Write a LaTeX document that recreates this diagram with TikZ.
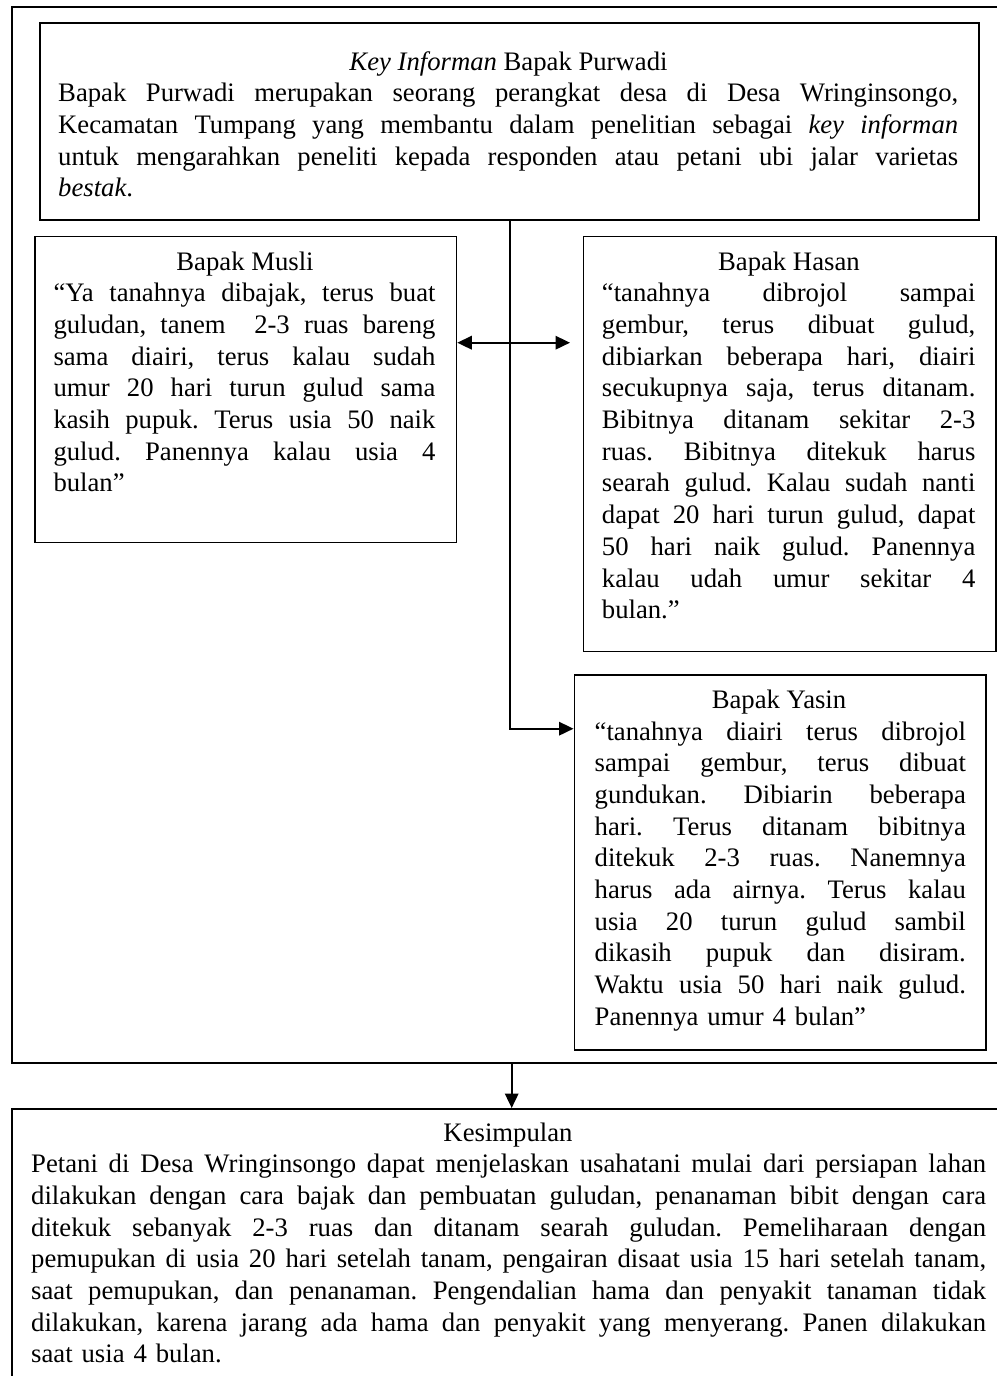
\documentclass[tikz,border=0pt]{standalone}
\usepackage{fontspec}
\setmainfont{Liberation Serif}
\usetikzlibrary{arrows.meta}
% one fully justified line of a paragraph: the spaces share the slack
\newcommand\jl[1]{\leavevmode\hbox to\hsize{\spaceskip=0.25em plus 1fil\relax#1}}
\setlength\parindent{0pt}
\frenchspacing

\begin{document}
\begin{tikzpicture}[x=1pt,y=-1pt,
  frame/.style={draw, line width=2.4pt, inner sep=0pt, anchor=north west},
  card/.style={draw, line width=1.6pt, inner sep=0pt, anchor=north west},
  heading/.style={inner sep=0pt, anchor=base, font=\fontsize{26.7pt}{31.7pt}\selectfont},
  body/.style={inner sep=0pt, anchor=base west, font=\fontsize{26.7pt}{31.7pt}\selectfont},
  link/.style={line width=1.8pt},
  tip/.style={-{Triangle[length=14.5pt,width=13.5pt]}},
  twotip/.style={{Triangle[length=14.5pt,width=13.5pt]}-{Triangle[length=14.5pt,width=13.5pt]}}
]
\useasboundingbox[fill=white] (0,0) rectangle (996,1376);

% outer frame and conclusion box (both run past the right edge)
\node[frame, minimum width=999pt, minimum height=1056pt] (outer) at (11,6) {};
\node[frame, minimum width=999pt, minimum height=300pt] (kes) at (11,1108) {};

% key informant box
\node[frame, line width=2.3pt, minimum width=939pt, minimum height=197.3pt] (top) at (39,21.7) {};
% respondent boxes
\node[card, minimum width=421.4pt, minimum height=306pt] (musli) at (34.3,235.7) {};
\node[card, minimum width=412.3pt, minimum height=415pt] (hasan) at (582.7,235.7) {};
\node[card, minimum width=411.5pt, minimum height=375.3pt] (yasin) at (573.5,674) {};

% texts
\node[heading] (toptitle) at (508.5,70) {\textit{Key Informan} Bapak Purwadi};
\node[body, text width=900pt] (toptext) at (58,101.7) {%
\jl{Bapak Purwadi merupakan seorang perangkat desa di Desa Wringinsongo,}\\
\jl{Kecamatan Tumpang yang membantu dalam penelitian sebagai \textit{key informan}}\\
\jl{untuk mengarahkan peneliti kepada responden atau petani ubi jalar varietas}\\
\textit{bestak}.};

\node[heading] (muslititle) at (245,270) {Bapak Musli};
\node[body, text width=382pt] (muslitext) at (53.3,301.7) {%
\jl{“Ya tanahnya dibajak, terus buat}\\
\jl{guludan, tanem \ 2-3 ruas bareng}\\
\jl{sama diairi, terus kalau sudah}\\
\jl{umur 20 hari turun gulud sama}\\
\jl{kasih pupuk. Terus usia 50 naik}\\
\jl{gulud. Panennya kalau usia 4}\\
bulan”};

\node[heading] (hasantitle) at (788.9,270) {Bapak Hasan};
\node[body, text width=373.5pt] (hasantext) at (601.7,301.7) {%
\jl{“tanahnya dibrojol sampai}\\
\jl{gembur, terus dibuat gulud,}\\
\jl{dibiarkan beberapa hari, diairi}\\
\jl{secukupnya saja, terus ditanam.}\\
\jl{Bibitnya ditanam sekitar 2-3}\\
\jl{ruas. Bibitnya ditekuk harus}\\
\jl{searah gulud. Kalau sudah nanti}\\
\jl{dapat 20 hari turun gulud, dapat}\\
\jl{50 hari naik gulud. Panennya}\\
\jl{kalau udah umur sekitar 4}\\
bulan.”};

\node[heading] (yasintitle) at (779,708.3) {Bapak Yasin};
\node[body, text width=371.2pt] (yasintext) at (594.5,740) {%
\jl{“tanahnya diairi terus dibrojol}\\
\jl{sampai gembur, terus dibuat}\\
\jl{gundukan. Dibiarin beberapa}\\
\jl{hari. Terus ditanam bibitnya}\\
\jl{ditekuk 2-3 ruas. Nanemnya}\\
\jl{harus ada airnya. Terus kalau}\\
\jl{usia 20 turun gulud sambil}\\
\jl{dikasih pupuk dan disiram.}\\
\jl{Waktu usia 50 hari naik gulud.}\\
Panennya umur 4 bulan”};

\node[heading] (kestitle) at (508,1141) {Kesimpulan};
\node[body, text width=955pt] (kestext) at (31,1172.7) {%
\jl{Petani di Desa Wringinsongo dapat menjelaskan usahatani mulai dari persiapan lahan}\\
\jl{dilakukan dengan cara bajak dan pembuatan guludan, penanaman bibit dengan cara}\\
\jl{ditekuk sebanyak 2-3 ruas dan ditanam searah guludan. Pemeliharaan dengan}\\
\jl{pemupukan di usia 20 hari setelah tanam, pengairan disaat usia 15 hari setelah tanam,}\\
\jl{saat pemupukan, dan penanaman. Pengendalian hama dan penyakit tanaman tidak}\\
\jl{dilakukan, karena jarang ada hama dan penyakit yang menyerang. Panen dilakukan}\\
saat usia 4 bulan.};

% connectors
\coordinate (hasanend) at (570,342.7);
\draw[link, twotip] ([yshift=-107pt]musli.north east) -- (hasanend);
\draw[link, tip] (top.south) |- ([yshift=-54.7pt]yasin.north west);
\draw[link, tip] (outer.south) -- (kes.north);
\end{tikzpicture}
\end{document}
